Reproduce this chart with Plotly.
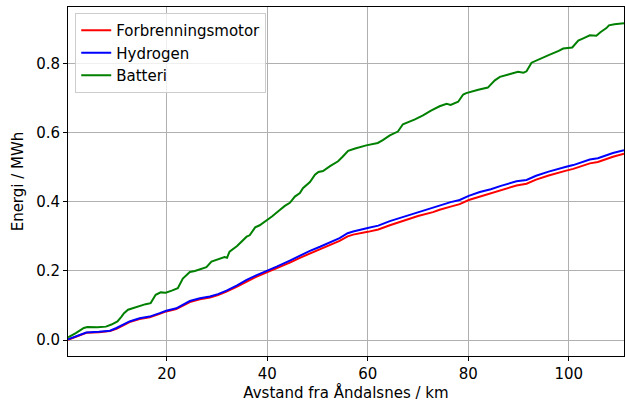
import plotly.graph_objects as go

# Battery (green) series
x_batt = [0.35, 1.9, 3.5, 4.2, 6.2, 7.9, 9.0, 10.2, 11.0, 11.5, 12.3, 13.2, 14.5, 15.8, 16.8, 17.5, 17.8,
          18.8, 19.8, 21.0, 22.2, 23.2, 24.2, 24.6, 25.6, 27.0, 27.9, 28.9, 30.2, 31.5, 32.0, 32.5, 34.0,
          35.9, 36.5, 37.6, 38.5, 39.8, 41.0, 42.5, 43.5, 44.5, 45.5, 46.5, 47.1, 48.5, 49.5, 50.2, 51.1,
          52.5, 54.1, 55.0, 56.1, 57.5, 59.7, 62.0, 63.0, 64.4, 66.0, 67.0, 68.0, 69.4, 71.0, 72.5, 74.3,
          75.7, 76.5, 78.0, 79.0, 79.6, 82.0, 83.9, 85.3, 86.3, 88.0, 89.9, 91.0, 91.6, 92.6, 94.0, 96.0,
          98.0, 98.9, 100.7, 101.9, 103.0, 104.2, 105.5, 106.3, 107.5, 108.0, 109.1, 110.5, 111.0]
batteri = [0.008, 0.020, 0.035, 0.038, 0.037, 0.039, 0.045, 0.054, 0.068, 0.078, 0.088, 0.092, 0.100, 0.104,
           0.107, 0.125, 0.131, 0.138, 0.137, 0.143, 0.150, 0.178, 0.192, 0.197, 0.200, 0.207, 0.211, 0.227,
           0.233, 0.240, 0.238, 0.256, 0.272, 0.299, 0.303, 0.326, 0.332, 0.345, 0.358, 0.376, 0.388, 0.397,
           0.415, 0.425, 0.439, 0.457, 0.478, 0.486, 0.489, 0.503, 0.517, 0.530, 0.547, 0.554, 0.563, 0.570,
           0.578, 0.592, 0.603, 0.624, 0.630, 0.638, 0.650, 0.663, 0.676, 0.683, 0.680, 0.689, 0.710, 0.714,
           0.724, 0.730, 0.751, 0.761, 0.768, 0.776, 0.773, 0.777, 0.802, 0.812, 0.824, 0.836, 0.843, 0.846,
           0.866, 0.873, 0.881, 0.880, 0.890, 0.902, 0.910, 0.913, 0.914, 0.916]

# Hydrogen (blue) and combustion engine (red) series
x_hf = [0.35, 1.9, 4.0, 6.5, 8.7, 10.0, 11.5, 12.6, 14.6, 16.6, 18.6, 19.9, 21.9, 23.5, 24.6, 26.6, 28.6,
        30.2, 31.9, 34.0, 35.9, 37.8, 39.8, 42.0, 44.5, 46.5, 48.5, 50.5, 52.5, 54.4, 56.0, 57.1, 60.0,
        62.1, 64.4, 66.4, 67.7, 70.0, 73.0, 74.3, 76.5, 78.3, 80.1, 82.3, 84.5, 86.5, 88.5, 89.6, 91.6,
        93.5, 96.0, 98.0, 99.5, 100.9, 103.0, 104.2, 105.8, 107.5, 108.8, 111.0]
hydrogen = [0.002, 0.010, 0.022, 0.024, 0.027, 0.035, 0.046, 0.054, 0.063, 0.068, 0.078, 0.085, 0.092, 0.104,
            0.113, 0.121, 0.126, 0.133, 0.143, 0.158, 0.174, 0.187, 0.199, 0.213, 0.230, 0.245, 0.258, 0.270,
            0.283, 0.295, 0.309, 0.314, 0.324, 0.331, 0.344, 0.353, 0.360, 0.371, 0.383, 0.390, 0.399, 0.405,
            0.417, 0.428, 0.436, 0.446, 0.455, 0.459, 0.463, 0.475, 0.487, 0.496, 0.501, 0.506, 0.515, 0.522,
            0.526, 0.535, 0.541, 0.549]
forbrenning = [0.001, 0.009, 0.021, 0.023, 0.026, 0.033, 0.044, 0.052, 0.061, 0.066, 0.076, 0.083, 0.090,
               0.101, 0.110, 0.118, 0.123, 0.130, 0.140, 0.155, 0.170, 0.183, 0.195, 0.208, 0.224, 0.238,
               0.251, 0.263, 0.275, 0.287, 0.300, 0.305, 0.313, 0.320, 0.332, 0.341, 0.347, 0.359, 0.370,
               0.377, 0.386, 0.393, 0.405, 0.415, 0.424, 0.434, 0.443, 0.447, 0.452, 0.464, 0.476, 0.485,
               0.490, 0.495, 0.504, 0.511, 0.515, 0.524, 0.530, 0.539]

x_ticks = [20, 40, 60, 80, 100]
y_ticks = [0.0, 0.2, 0.4, 0.6, 0.8]

font = "DejaVu Sans"
fs = 15
fig = go.Figure()
fig.add_trace(go.Scatter(x=x_hf, y=forbrenning, mode="lines", name="Forbrenningsmotor",
                         line=dict(color="#ff0000", width=2)))
fig.add_trace(go.Scatter(x=x_hf, y=hydrogen, mode="lines", name="Hydrogen",
                         line=dict(color="#0000ff", width=2)))
fig.add_trace(go.Scatter(x=x_batt, y=batteri, mode="lines", name="Batteri",
                         line=dict(color="#008000", width=2)))

axis_common = dict(showline=True, linecolor="#000000", linewidth=1, mirror=True,
                   ticks="outside", ticklen=4, tickwidth=1, tickcolor="#000000",
                   showgrid=True, gridcolor="#b0b0b0", gridwidth=1, zeroline=False,
                   automargin=False,
                   tickfont=dict(family=font, size=fs, color="#000000"))

fig.update_xaxes(range=[0.35, 111], tickvals=x_ticks, ticktext=[str(v) for v in x_ticks],
                 title=dict(text="Avstand fra Åndalsnes / km", font=dict(family=font, size=fs, color="#000000"),
                            standoff=4),
                 **axis_common)
fig.update_yaxes(range=[-0.0459, 0.963], tickvals=y_ticks, ticktext=[f"{v:.1f}" for v in y_ticks],
                 title=dict(text="Energi / MWh", font=dict(family=font, size=fs, color="#000000"),
                            standoff=8),
                 **axis_common)

fig.update_layout(
    width=625, height=405,
    margin=dict(l=68, r=1, t=7, b=49, autoexpand=False),
    plot_bgcolor="white", paper_bgcolor="white",
    font=dict(family=font, size=fs, color="#000000"),
    showlegend=True,
    legend=dict(x=0.013, y=0.983, xanchor="left", yanchor="top",
                bgcolor="rgba(255,255,255,0.8)", bordercolor="#cccccc", borderwidth=1,
                font=dict(family=font, size=fs, color="#000000"),
                tracegroupgap=0, itemwidth=30),
)

fig.write_html("out.html", config={"displayModeBar": False},
               post_script="document.body.style.margin='0';")
